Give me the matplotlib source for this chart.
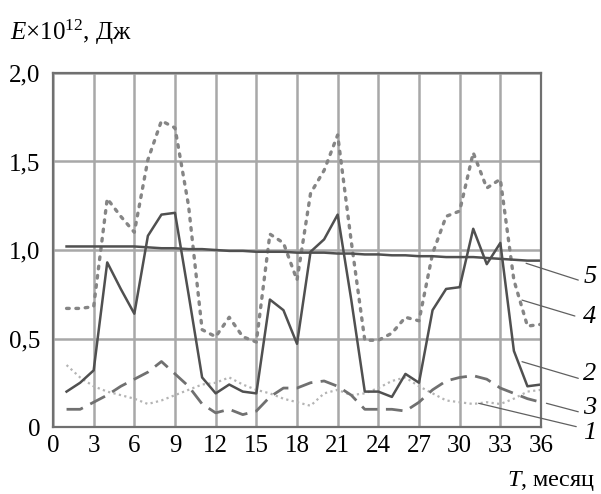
import matplotlib as mpl
mpl.use("Agg")
import matplotlib.pyplot as plt

mpl.rcParams.update({
    "font.family": "Liberation Serif",
    "font.size": 18,
    "mathtext.fontset": "custom",
    "mathtext.rm": "Liberation Serif",
    "mathtext.it": "Liberation Serif:italic",
})

months = list(range(1, 37))

# curve 1 - fine light dots
e1 = [0.35, 0.28, 0.23, 0.20, 0.18, 0.16, 0.13, 0.15, 0.18, 0.21, 0.24, 0.25,
      0.28, 0.24, 0.21, 0.19, 0.16, 0.14, 0.12, 0.19, 0.21, 0.18, 0.19, 0.22,
      0.26, 0.28, 0.23, 0.19, 0.15, 0.14, 0.13, 0.14, 0.13, 0.16, 0.20, 0.21]
# curve 2 - solid
e2 = [0.20, 0.25, 0.32, 0.93, 0.78, 0.64, 1.08, 1.20, 1.21, 0.75, 0.28, 0.19,
      0.24, 0.20, 0.19, 0.72, 0.66, 0.47, 0.99, 1.06, 1.20, 0.72, 0.20, 0.20,
      0.17, 0.30, 0.25, 0.66, 0.78, 0.79, 1.12, 0.92, 1.04, 0.43, 0.23, 0.24]
# curve 3 - long dashes
e3 = [0.10, 0.10, 0.14, 0.18, 0.23, 0.27, 0.31, 0.37, 0.30, 0.23, 0.13, 0.08,
      0.10, 0.07, 0.09, 0.17, 0.22, 0.22, 0.25, 0.26, 0.23, 0.18, 0.10, 0.10,
      0.10, 0.09, 0.14, 0.21, 0.26, 0.28, 0.29, 0.27, 0.22, 0.19, 0.16, 0.14]
# curve 4 - heavy dots
e4 = [0.67, 0.67, 0.68, 1.29, 1.19, 1.10, 1.51, 1.73, 1.69, 1.25, 0.55, 0.51,
      0.62, 0.51, 0.48, 1.09, 1.04, 0.83, 1.32, 1.45, 1.65, 1.05, 0.49, 0.49,
      0.53, 0.62, 0.60, 0.98, 1.19, 1.22, 1.55, 1.35, 1.40, 0.83, 0.57, 0.58]
# curve 5 - trend, solid
e5 = [1.02, 1.02, 1.02, 1.02, 1.02, 1.02, 1.015, 1.01, 1.01, 1.005, 1.005, 1.0,
      0.995, 0.995, 0.99, 0.99, 0.99, 0.985, 0.985, 0.985, 0.98, 0.98, 0.975, 0.975,
      0.97, 0.97, 0.965, 0.965, 0.96, 0.96, 0.96, 0.955, 0.95, 0.945, 0.94, 0.94]

x_ticks = list(range(0, 37, 3))
y_ticks = [0, 0.5, 1.0, 1.5, 2.0]
y_labels = ["0", "0,5", "1,0", "1,5", "2,0"]

W, H = 601, 494
fig = plt.figure(figsize=(W / 100, H / 100), dpi=100)
ax = fig.add_axes([53 / W, (H - 427) / H, 488 / W, 354 / H])

ax.set_xlim(0, 36)
ax.set_ylim(0, 2.0)
ax.set_xticks(x_ticks)
ax.set_xticklabels([str(t) for t in x_ticks])
ax.set_yticks(y_ticks)
ax.set_yticklabels(y_labels)
ax.tick_params(length=0, labelsize=18, colors="black")
ax.tick_params(axis="y", pad=9)
ax.tick_params(axis="x", pad=6)
ax.grid(True, color="#a8a8a8", linewidth=1.8)
ax.set_axisbelow(True)
for s in ax.spines.values():
    s.set_color("#707070")
    s.set_linewidth(1.6)

ax.plot(months, e1, color="#b4b4b4", linewidth=1.6, linestyle=(0, (1, 1.5)))
ax.plot(months, e3, color="#707070", linewidth=2.0, linestyle=(0, (6, 3)))
ax.plot(months, e4, color="#858585", linewidth=2.4, linestyle=(0, (0.8, 2.0)),
        dash_capstyle="round")
ax.plot(months, e2, color="#505050", linewidth=1.8)
ax.plot(months, e5, color="#505050", linewidth=1.8)

# curve labels with leader lines
labels = [("5", (34.9, 0.925), (38.75, 0.83), (39.6, 0.847)),
          ("4", (34.6, 0.717), (38.5, 0.627), (39.6, 0.621)),
          ("2", (34.6, 0.369), (38.75, 0.275), (39.6, 0.30)),
          ("3", (36.4, 0.134), (38.75, 0.086), (39.6, 0.107)),
          ("1", (31.4, 0.134), (38.6, 0.002), (39.6, -0.034))]
for txt, p0, p1, pt in labels:
    ax.annotate("", xy=p0, xytext=p1, annotation_clip=False,
                arrowprops=dict(arrowstyle="-", color="#606060", lw=0.9,
                                shrinkA=0, shrinkB=0))
    ax.text(pt[0], pt[1], txt, fontsize=19, style="italic", ha="center",
            va="center", clip_on=False)

fig.text(10 / W, 1 - 40 / H, r"$E$×10$^{12}$, Дж", fontsize=18,
         ha="left", va="baseline")
fig.text(595 / W, 1 - 486 / H, r"$T$, месяц", fontsize=17.5,
         ha="right", va="baseline")

fig.savefig("out.png", dpi=100)
